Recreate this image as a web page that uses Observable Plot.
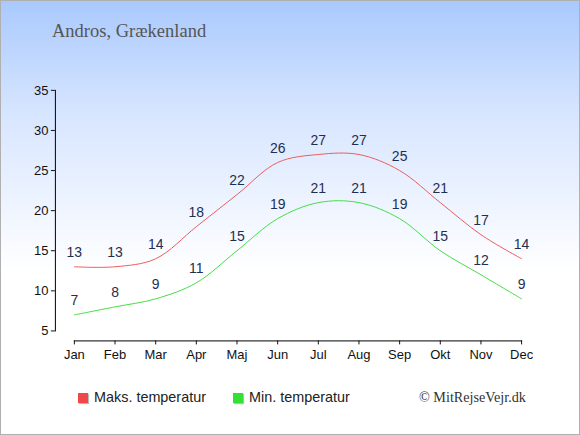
<!DOCTYPE html>
<html>
<head>
<meta charset="utf-8">
<script src="https://cdn.jsdelivr.net/npm/d3@7"></script>
<script src="https://cdn.jsdelivr.net/npm/@observablehq/plot@0.6"></script>
<style>
  html, body { margin: 0; padding: 0; }
  #wrap {
    position: relative; width: 580px; height: 435px; box-sizing: border-box;
    border: 1px solid #b0b0b0;
    background: linear-gradient(to bottom, #a9c9fd 0px, #d6e5ff 110px, #ffffff 270px, #ffffff 435px);
    overflow: hidden;
  }
  #chart { position: absolute; left: -1px; top: -1px; }
  #chart g[aria-label="y-axis tick label"], #chart g[aria-label="x-axis tick label"] { font-size: 13px; fill: #111; }
  #title { position: absolute; left: 51px; top: 20px; font-family: "Liberation Serif", "DejaVu Serif", serif; font-size: 18.5px; color: #555; }
  .leg { position: absolute; top: 388px; font-family: "Liberation Sans", Arial, sans-serif; font-size: 14.4px; color: #222; }
  .sw { display: inline-block; width: 10px; height: 10px; vertical-align: -1px; margin-right: 6px; box-shadow: 1px 1px 1px #bbb; }
  #copy { position: absolute; left: 418px; top: 388px; font-family: "Liberation Serif", "DejaVu Serif", serif; font-size: 14.2px; color: #333; }
</style>
</head>
<body>
<div id="wrap">
  <div id="chart"></div>
  <div id="title">Andros, Grækenland</div>
  <div class="leg" style="left:77px"><span class="sw" style="background:#f04848"></span>Maks. temperatur</div>
  <div class="leg" style="left:232px"><span class="sw" style="background:#33e033"></span>Min. temperatur</div>
  <div id="copy">© MitRejseVejr.dk</div>
</div>
<script>
const months = ["Jan","Feb","Mar","Apr","Maj","Jun","Jul","Aug","Sep","Okt","Nov","Dec"];
const maxTemp = [13,13,14,18,22,26,27,27,25,21,17,14];
const minTemp = [7,8,9,11,15,19,21,21,19,15,12,9];
const yTicks = [5,10,15,20,25,30,35];

const maxData = months.map((m, i) => ({i, m, v: maxTemp[i]}));
const minData = months.map((m, i) => ({i, m, v: minTemp[i]}));

const chart = Plot.plot({
  width: 580,
  height: 435,
  marginLeft: 55,
  marginRight: 58,
  marginTop: 90,
  marginBottom: 94,
  style: {background: "transparent", fontFamily: "Liberation Sans, Arial, sans-serif", fontSize: "13px", color: "#111"},
  x: {type: "linear", domain: [0, 11], range: [74, 522]},
  y: {domain: [5, 35], range: [331, 90]},
  marks: [
    Plot.frame({anchor: "left", insetBottom: 10, stroke: "#000"}),
    Plot.frame({anchor: "bottom", insetLeft: 19, stroke: "#000"}),
    Plot.axisY({ticks: yTicks, tickSize: 4, tickPadding: 3, label: null, fontSize: 13, tickFormat: d => d}),
    Plot.axisX({ticks: d3.range(12), tickSize: 4, tickPadding: 5, label: null, fontSize: 13, tickFormat: i => months[i]}),
    Plot.line(maxData, {x: "i", y: "v", curve: "catmull-rom", stroke: "#f05a5a", strokeWidth: 1}),
    Plot.line(minData, {x: "i", y: "v", curve: "catmull-rom", stroke: "#44dd44", strokeWidth: 1}),
    Plot.text(maxData, {x: "i", y: "v", text: "v", dy: -14, fontSize: 14, fill: "#1f2f50"}),
    Plot.text(minData, {x: "i", y: "v", text: "v", dy: -14, fontSize: 14, fill: "#1f2f50"})
  ]
});
document.getElementById("chart").appendChild(chart);
</script>
</body>
</html>
